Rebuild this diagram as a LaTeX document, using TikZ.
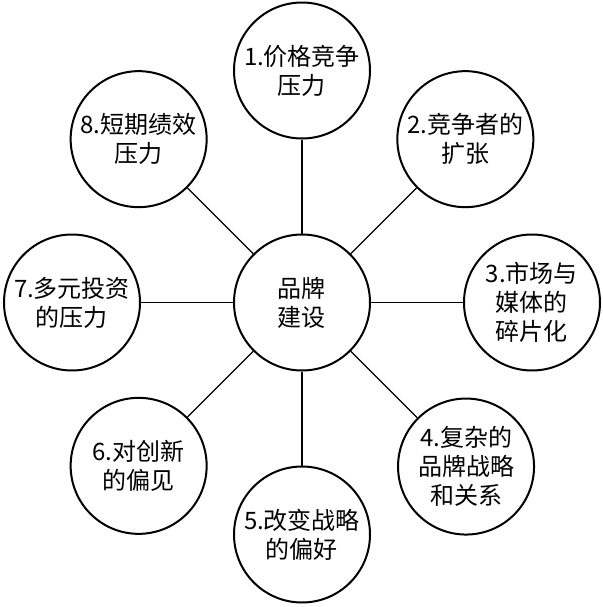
\documentclass[tikz,border=0pt]{standalone}
\usepackage{fontspec}
\newfontfamily\cjk{Noto Sans CJK SC}

\begin{document}
\begin{tikzpicture}[
  x=0.5pt,
  y=0.5pt,
  hub/.style={draw, circle, line width=1pt, minimum size=68pt, inner sep=0pt,
    align=center, font=\cjk\fontsize{12}{14.5}\selectfont},
  factor/.style={hub},
  link/.style={line width=0.7pt}
]
\useasboundingbox (-302,-304.5) rectangle (300,302.5);
\node[hub] (brand) at (0,0) {品牌\\建设};
\node[factor] (f1) at (90:232) {1.价格竞争\\压力};
\node[factor] (f2) at (45:231) {2.竞争者的\\扩张};
\node[factor] (f3) at (0:230) {3.市场与\\媒体的\\碎片化};
\node[factor] (f4) at (-45:232) {4.复杂的\\品牌战略\\和关系};
\node[factor] (f5) at (-90:232) {5.改变战略\\的偏好};
\node[factor] (f6) at (-135:231) {6.对创新\\的偏见};
\node[factor] (f7) at (180:230) {7.多元投资\\的压力};
\node[factor] (f8) at (135:231) {8.短期绩效\\压力};
\draw[link] (brand) -- (f1);
\draw[link] (brand) -- (f2);
\draw[link] (brand) -- (f3);
\draw[link] (brand) -- (f4);
\draw[link] (brand) -- (f5);
\draw[link] (brand) -- (f6);
\draw[link] (brand) -- (f7);
\draw[link] (brand) -- (f8);
\end{tikzpicture}
\end{document}
